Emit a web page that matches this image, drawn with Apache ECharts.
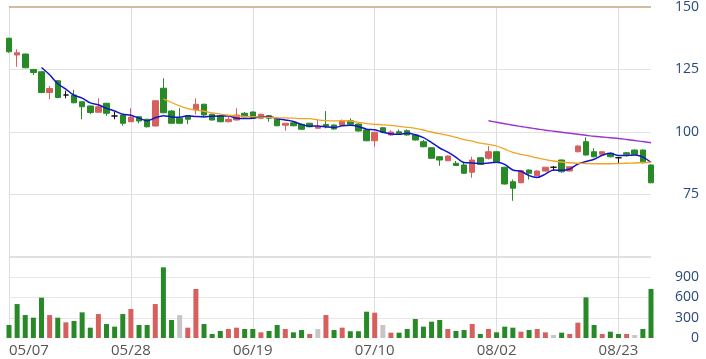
<!DOCTYPE html>
<html><head><meta charset="utf-8">
<script src="https://cdn.jsdelivr.net/npm/echarts@6/dist/echarts.min.js"></script>
<style>html,body{margin:0;padding:0;background:#fff}#c{width:706px;height:359px}</style>
</head><body><div id="c"></div>
<script>
const dates = ['05/07','05/08','05/09','05/10','05/11','05/14','05/15','05/16','05/17','05/18',
'05/21','05/22','05/23','05/24','05/25','05/28','05/29','05/30','05/31','06/01',
'06/04','06/05','06/07','06/08','06/11','06/12','06/13','06/14','06/15','06/18',
'06/19','06/20','06/21','06/22','06/25','06/26','06/27','06/28','06/29','07/02',
'07/03','07/04','07/05','07/06','07/09','07/10','07/11','07/12','07/13','07/16',
'07/17','07/18','07/19','07/20','07/23','07/24','07/25','07/26','07/27','07/30',
'08/02','08/03','08/06','08/07','08/08','08/09','08/10','08/13','08/14','08/15',
'08/16','08/17','08/20','08/21','08/22','08/23','08/24','08/27','08/28','08/29'];
const opens = [137.5,130.8,131.2,125.0,124.1,115.8,120.5,114.8,114.8,112.1,
110.4,107.9,111.5,106.4,106.8,104.1,106.1,105.1,102.4,117.5,
108.4,105.5,106.5,108.8,111.1,107.1,106.5,104.1,104.8,107.5,
108.0,105.5,106.5,105.1,102.7,103.7,103.1,103.5,101.5,103.0,
102.8,102.8,104.5,103.2,100.8,96.5,101.7,98.8,100.1,100.5,
98.8,96.1,93.7,90.1,88.5,87.5,86.8,83.9,89.7,89.5,
92.1,85.9,80.1,79.7,84.8,82.5,84.4,85.9,88.8,84.4,
92.1,96.1,92.1,91.1,91.5,89.7,91.7,92.8,92.8,86.8];
const closes = [132.1,131.7,125.7,123.8,115.8,117.4,113.8,114.8,111.7,110.1,
107.8,110.1,107.5,106.4,103.5,105.9,104.4,102.1,112.5,107.7,
103.5,103.5,105.1,111.1,106.8,104.8,104.1,105.1,106.8,106.1,
105.5,107.1,105.5,102.5,103.5,102.5,101.1,102.1,102.1,102.3,
101.2,104.5,103.1,100.4,96.5,99.9,99.9,100.0,99.5,98.8,
96.8,94.1,89.5,88.8,90.4,86.6,83.5,88.8,87.1,92.1,
88.1,79.2,77.5,84.5,83.5,84.4,85.9,85.9,84.1,86.1,
94.4,90.8,90.1,92.1,90.1,89.7,91.1,91.1,87.7,79.7];
const lows = [131.7,126.1,125.5,122.8,115.5,113.2,113.5,113.5,111.5,105.1,
107.2,107.9,106.5,105.1,102.5,104.0,103.5,101.8,102.2,107.5,
103.3,103.3,103.1,107.1,106.0,104.6,103.9,103.9,104.6,105.9,
105.3,105.3,104.1,102.3,100.5,102.3,100.9,101.9,101.3,101.5,
101.0,102.6,102.9,100.2,96.3,94.1,99.5,98.6,99.3,98.6,
96.6,93.9,89.3,86.5,88.3,86.4,83.3,81.7,86.9,89.0,
87.9,79.0,72.5,79.5,81.0,82.3,84.2,84.4,83.7,84.2,
91.9,90.6,89.9,90.9,89.9,87.5,90.2,90.9,87.5,79.5];
const highs = [137.7,133.1,131.3,125.2,124.3,118.4,120.8,116.5,116.8,112.2,
110.6,113.5,111.6,108.1,107.0,109.5,106.3,105.3,112.6,121.5,
108.8,109.5,106.7,113.5,111.3,107.3,106.7,106.0,109.5,108.0,
108.2,107.3,106.7,105.3,103.6,103.9,103.3,103.7,104.8,108.4,
103.0,105.0,105.5,103.4,101.0,100.1,102.0,100.6,101.0,101.0,
99.0,96.8,93.9,90.3,90.6,88.4,88.0,90.1,89.9,94.4,
92.3,86.1,81.0,84.7,85.0,84.6,86.1,86.4,89.0,86.3,
94.6,97.9,93.5,92.3,91.7,89.9,92.0,93.0,93.0,87.0];
const volumes = [193,503,340,301,597,340,301,232,252,380,
153,355,207,168,355,430,193,193,503,1047,
267,340,153,726,207,59,104,133,153,133,
133,84,104,193,133,84,118,59,133,340,
118,153,100,100,390,375,193,79,79,133,
281,168,242,267,133,104,118,207,59,133,
84,168,153,94,118,133,84,44,79,59,
227,602,193,59,94,59,59,44,133,726];
// moving-average lines (start index noted)
const ma5Start = 4;
const ma5 = [125.82,122.88,119.30,117.12,114.70,113.56,111.64,110.90,109.44,108.38,
107.06,106.68,105.54,104.46,105.68,106.52,106.04,105.90,106.50,106.22,
106.04,106.30,106.38,106.38,105.52,105.38,105.52,106.12,106.20,105.34,
104.82,104.22,103.02,102.34,102.40,102.04,101.78,102.46,102.66,102.18,
101.14,100.88,99.92,99.24,99.06,99.52,98.90,97.78,95.74,93.60,
91.92,89.88,87.76,87.62,87.28,87.62,87.92,87.06,84.80,84.28,
82.56,81.82,83.16,84.76,84.68,85.20,87.20,88.18,89.10,90.70,
91.50,90.56,90.62,90.82,89.94,87.86];
const ma20Start = 19;
const ma20 = [113.24,111.81,110.41,109.38,108.75,108.30,107.67,107.18,106.70,106.45,
106.25,106.14,105.99,105.89,105.69,105.69,105.52,105.36,105.36,104.87,
104.57,104.46,104.50,104.40,103.86,103.35,103.10,102.88,102.61,102.25,
101.88,101.45,100.80,100.00,99.31,98.66,97.86,96.98,96.32,95.53,
95.05,94.40,93.13,91.85,91.06,90.41,89.63,88.94,88.40,88.00,
87.70,87.50,87.40,87.30,87.30,87.30,87.40,87.50,87.60,87.80,
87.90];
const ma60Start = 59;
const ma60 = [104.5,103.9,103.3,102.7,102.2,101.7,101.2,100.7,100.3,99.9,
99.5,99.1,98.7,98.3,98.0,97.7,97.4,97.0,96.6,96.2,95.7];
const priceTicks = [50,75,100,125,150];
const volTicks = [0,300,600,900,1200];

const UP = '#d6605e', DOWN = '#278a27', FLAT = '#c6c6c6';
const pad = (arr, n) => Array(n).fill('-').concat(arr);
const candles = dates.map((d, i) => [opens[i], closes[i], lows[i], highs[i]]);
const volData = volumes.map((v, i) => {
  const dir = i === 0 ? Math.sign(closes[i] - opens[i]) : Math.sign(closes[i] - closes[i - 1]);
  return { value: v, itemStyle: { color: dir > 0 ? UP : dir < 0 ? DOWN : FLAT } };
});
const every15 = (i) => i % 15 === 0;
const vLine = { show: true, interval: every15, lineStyle: { color: '#dedede', width: 1 } };
const yLab = { fontFamily: 'Open Sans', fontSize: 14, color: '#274a7c', align: 'right', margin: 48 };

const chart = echarts.init(document.getElementById('c'), null, { renderer: 'canvas' });
chart.setOption({
  animation: false,
  grid: [
    { left: 9, right: 55, top: 7, height: 250, outerBoundsMode: 'none', containLabel: false },
    { left: 9, right: 55, top: 257, height: 81, outerBoundsMode: 'none', containLabel: false }
  ],
  xAxis: [
    { type: 'category', gridIndex: 0, data: dates, boundaryGap: false,
      axisLine: { show: false }, axisTick: { show: false }, axisLabel: { show: false }, splitLine: vLine },
    { type: 'category', gridIndex: 1, data: dates, boundaryGap: false,
      axisLine: { show: false }, axisTick: { show: false }, splitLine: vLine,
      axisLabel: { interval: every15, fontFamily: 'Open Sans', fontSize: 15, color: '#555', margin: 5,
        alignMinLabel: 'left', hideOverlap: false } }
  ],
  yAxis: [
    { type: 'value', gridIndex: 0, position: 'right', min: priceTicks[0], max: priceTicks[4], interval: 25,
      axisLine: { show: false }, axisTick: { show: false },
      axisLabel: Object.assign({ formatter: v => (v === priceTicks[0] ? '' : String(v)) }, yLab),
      splitLine: { lineStyle: { color: ['#e2e2e2', '#e2e2e2', '#e2e2e2', '#e2e2e2', 'transparent'] } } },
    { type: 'value', gridIndex: 1, position: 'right', min: volTicks[0], max: volTicks[4], interval: 300,
      axisLine: { show: false }, axisTick: { show: false },
      axisLabel: Object.assign({ formatter: v => (v === volTicks[4] ? '' : String(v)) }, yLab),
      splitLine: { lineStyle: { color: ['transparent', '#e6e6e6', '#e6e6e6', '#e6e6e6', 'transparent'] } } }
  ],
  series: [
    { type: 'candlestick', xAxisIndex: 0, yAxisIndex: 0, data: candles, barWidth: 6, clip: false,
      itemStyle: { color: UP, color0: DOWN, borderColor: UP, borderColor0: DOWN, borderColorDoji: '#111', borderWidth: 1 },
      markLine: { silent: true, symbol: 'none', label: { show: false },
        lineStyle: { color: '#c2a67c', width: 1.5, type: 'solid' }, data: [{ yAxis: priceTicks[4] }] } },
    { type: 'line', xAxisIndex: 0, yAxisIndex: 0, data: pad(ma5, ma5Start), symbol: 'none', smooth: 0.3,
      lineStyle: { color: '#1414c8', width: 1.5 } },
    { type: 'line', xAxisIndex: 0, yAxisIndex: 0, data: pad(ma20, ma20Start), symbol: 'none', smooth: 0.3,
      lineStyle: { color: '#f2a324', width: 1.3 } },
    { type: 'line', xAxisIndex: 0, yAxisIndex: 0, data: pad(ma60, ma60Start), symbol: 'none', smooth: 0.3,
      lineStyle: { color: '#9b35d0', width: 1.3 } },
    { type: 'bar', xAxisIndex: 1, yAxisIndex: 1, data: volData, barWidth: 5,
      markLine: { silent: true, symbol: 'none', label: { show: false },
        lineStyle: { color: '#e0e0e0', width: 2, type: 'solid' }, data: [{ yAxis: volTicks[4] }] } }
  ]
});
</script></body></html>
